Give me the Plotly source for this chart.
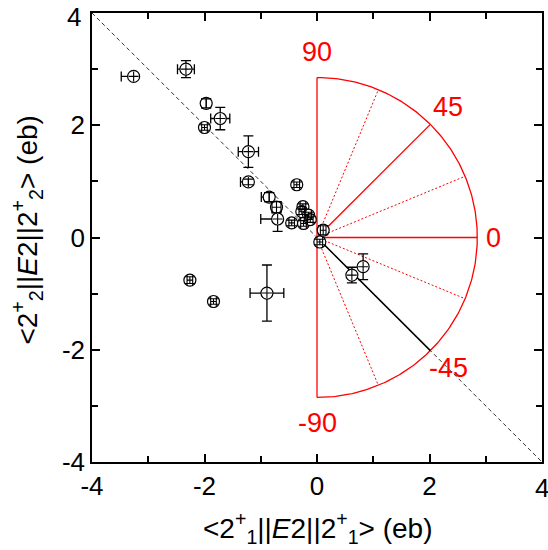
import numpy as np
import plotly.graph_objects as go

# ---- data ----
x_vals = [-3.26, -2.33, -1.97, -1.72, -2.00, -1.22, -1.22, -0.36, -0.85, -0.72, -0.70,
          -0.45, -0.25, -0.27, -0.15, -0.24, -0.12, 0.11, 0.05, 0.62, 0.82, -2.26, -1.84, -0.89]
y_vals = [2.87, 3.00, 2.39, 2.12, 1.96, 1.53, 0.99, 0.94, 0.72, 0.54, 0.33,
          0.26, 0.55, 0.46, 0.40, 0.25, 0.32, 0.13, -0.08, -0.67, -0.52, -0.76, -1.14, -0.99]
x_err_plus = [0.00, 0.15, 0.00, 0.17, 0.05, 0.18, 0.00, 0.05, 0.00, 0.08, 0.00,
              0.05, 0.05, 0.05, 0.05, 0.05, 0.05, 0.05, 0.05, 0.00, 0.00, 0.05, 0.05, 0.30]
x_err_minus = [0.22, 0.15, 0.00, 0.17, 0.05, 0.18, 0.14, 0.05, 0.14, 0.08, 0.30,
               0.05, 0.05, 0.05, 0.05, 0.05, 0.05, 0.05, 0.05, 0.00, 0.00, 0.05, 0.05, 0.30]
y_err = [0.00, 0.15, 0.08, 0.20, 0.05, 0.28, 0.05, 0.05, 0.08, 0.10, 0.22,
         0.05, 0.05, 0.05, 0.05, 0.05, 0.05, 0.08, 0.05, 0.14, 0.23, 0.06, 0.05, 0.50]

radius = 2.85
ray_angles = [90, 67.5, 45, 22.5, 0, -22.5, -45, -67.5, -90]
ray_styles = ["solid", "dot", "solid", "dot", "solid", "dot", "black", "dot", "solid"]
label_angles = [90, 45, 0, -45, -90]
label_texts = ["90", "45", "0", "-45", "-90"]
label_r = 3.3

tick_vals = [-4, -2, 0, 2, 4]
tick_text = ["-4", "-2", "0", "2", "4"]

FONT = "Arial, Liberation Sans, sans-serif"
RED = "#ff0000"
MARKER_R = 0.11  # marker radius in data units: errors smaller than this show on top of the circle

fig = go.Figure()

# diagonal dashed line y = -x
fig.add_trace(go.Scatter(x=[-4, 4], y=[4, -4], mode="lines",
                         line=dict(color="#333333", width=1, dash="4px,3px"),
                         hoverinfo="skip", showlegend=False))

# red semicircle arc
th = np.radians(np.linspace(-90, 90, 241))
fig.add_trace(go.Scatter(x=radius * np.cos(th), y=radius * np.sin(th), mode="lines",
                         line=dict(color=RED, width=1.3), hoverinfo="skip", showlegend=False))

# rays
for ang, sty in zip(ray_angles, ray_styles):
    a = np.radians(ang)
    if sty == "black":
        ln = dict(color="#000000", width=1.5)
    elif sty == "dot":
        ln = dict(color=RED, width=1, dash="2px,2px")
    else:
        ln = dict(color=RED, width=1.3)
    fig.add_trace(go.Scatter(x=[0, radius * np.cos(a)], y=[0, radius * np.sin(a)], mode="lines",
                             line=ln, hoverinfo="skip", showlegend=False))

# data points with error bars (bars beneath markers)
fig.add_trace(go.Scatter(
    x=x_vals, y=y_vals, mode="markers",
    marker=dict(symbol="circle", size=12, color="white", line=dict(color="black", width=1.2)),
    error_x=dict(type="data", symmetric=False, array=x_err_plus, arrayminus=x_err_minus,
                 color="black", thickness=1.3, width=5),
    error_y=dict(type="data", array=y_err, color="black", thickness=1.3, width=5),
    showlegend=False))

# small error bars that sit inside the circles, drawn on top
def small(v):
    return [e if 0 < e < MARKER_R else None for e in v]

fig.add_trace(go.Scatter(
    x=x_vals, y=y_vals, mode="markers",
    marker=dict(size=12, opacity=0),
    error_x=dict(type="data", symmetric=False, array=small(x_err_plus), arrayminus=small(x_err_minus),
                 color="black", thickness=1.1, width=5),
    error_y=dict(type="data", array=small(y_err), color="black", thickness=1.1, width=5),
    hoverinfo="skip", showlegend=False))

annotations = []
for ang, txt in zip(label_angles, label_texts):
    a = np.radians(ang)
    if ang == 0:
        annotations.append(dict(x=2.97, y=0, text=txt, showarrow=False, xanchor="left",
                                yanchor="middle", font=dict(family=FONT, size=27, color=RED)))
    else:
        annotations.append(dict(x=label_r * np.cos(a), y=label_r * np.sin(a), text=txt,
                                showarrow=False, xanchor="center", yanchor="middle",
                                font=dict(family=FONT, size=27, color=RED)))

# end tick labels sit at the very edge of the page; draw them as annotations so they are not dropped
annotations.append(dict(x=tick_vals[-1], xref="x", yref="paper", y=-0.02, text=tick_text[-1],
                        showarrow=False, xanchor="center", yanchor="top",
                        font=dict(family=FONT, size=26, color="black")))
annotations.append(dict(y=tick_vals[-1], yref="y", xref="paper", x=-0.02, text=tick_text[-1],
                        showarrow=False, xanchor="right", yanchor="top", yshift=13,
                        font=dict(family=FONT, size=26, color="black")))

annotations.append(dict(xref="paper", yref="paper", x=0.503, y=-0.148,
                        text="&lt;2<sup>+</sup><sub>1</sub>||<i>E</i>2||2<sup>+</sup><sub>1</sub>&gt; (eb)",
                        showarrow=False, xanchor="center", yanchor="middle",
                        font=dict(family=FONT, size=28, color="black")))
annotations.append(dict(xref="paper", yref="paper", x=-0.145, y=0.517, textangle=-90,
                        text="&lt;2<sup>+</sup><sub>2</sub>||<i>E</i>2||2<sup>+</sup><sub>2</sub>&gt; (eb)",
                        showarrow=False, xanchor="center", yanchor="middle",
                        font=dict(family=FONT, size=28, color="black")))

axis_common = dict(range=[-4, 4], showgrid=False, zeroline=False, showline=True,
                   linecolor="black", linewidth=1.5, mirror="allticks", ticks="inside",
                   ticklen=8, tickwidth=1.5, tickcolor="black", automargin=False,
                   tickvals=tick_vals, ticktext=tick_text,
                   minor=dict(tickvals=[-3, -1, 1, 3], ticks="inside", ticklen=6,
                              tickwidth=1.5, tickcolor="black"),
                   tickfont=dict(family=FONT, size=26, color="black"))

fig.update_layout(
    width=548, height=550,
    margin=dict(l=92, r=6, t=13, b=88),
    paper_bgcolor="white", plot_bgcolor="white",
    xaxis=dict(**axis_common),
    yaxis=dict(**axis_common),
    annotations=annotations,
)

fig.write_html("out.html")
